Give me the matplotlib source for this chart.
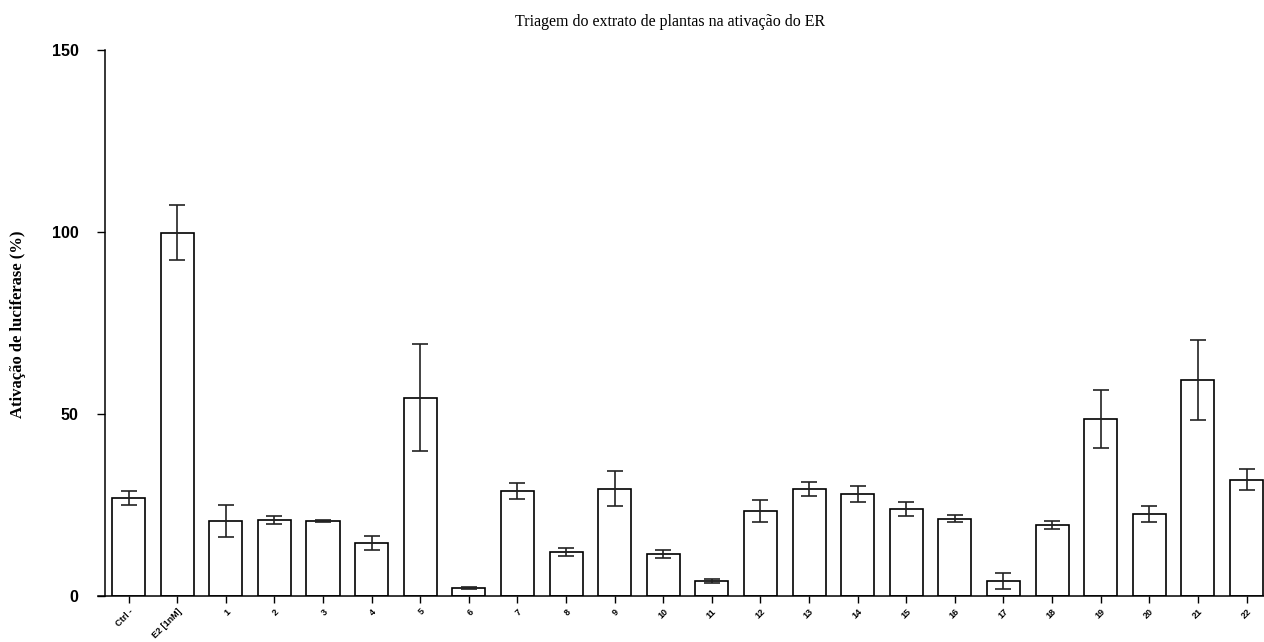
import matplotlib.pyplot as plt

# categories and values
labels = ['Ctrl -', 'E2 [1nM]', '1', '2', '3', '4', '5', '6', '7', '8', '9', '10',
          '11', '12', '13', '14', '15', '16', '17', '18', '19', '20', '21', '22']
means = [26.9, 99.8, 20.6, 20.9, 20.5, 14.6, 54.5, 2.2, 28.8, 12.1, 29.4, 11.5,
         4.1, 23.4, 29.4, 28.0, 23.9, 21.2, 4.1, 19.5, 48.6, 22.5, 59.3, 31.9]
errors = [2.0, 7.6, 4.3, 1.2, 0.3, 2.0, 14.6, 0.3, 2.2, 1.0, 4.8, 1.0,
          0.6, 3.0, 2.0, 2.2, 1.9, 1.0, 2.3, 1.2, 8.0, 2.3, 11.0, 2.9]
yticks = [0, 50, 100, 150]

x = list(range(len(labels)))

fig = plt.figure(figsize=(12.64, 6.42), dpi=100)
ax = fig.add_axes([0.0775, 0.0717, 0.9225, 0.8505])

ax.bar(x, means, width=0.68, color='white', edgecolor='black', linewidth=1.2,
       yerr=errors, error_kw=dict(ecolor='#222222', elinewidth=1.2, capsize=6, capthick=1.2))

ax.spines['top'].set_visible(False)
ax.spines['right'].set_visible(False)
ax.spines['left'].set_position(('data', -0.49))
ax.spines['left'].set_bounds(0, 150)
ax.spines['left'].set_linewidth(1.1)
ax.spines['bottom'].set_linewidth(1.1)

ax.set_xlim(-0.63, 23.36)
ax.set_ylim(0, 150)
ax.set_yticks(yticks)
ax.set_yticklabels([str(v) for v in yticks], family='Liberation Sans',
                   fontweight='bold', fontsize=11.5)
ax.set_xticks(x)
ax.set_xticklabels(labels, rotation=45, ha='right', rotation_mode='anchor',
                   fontsize=6.5, fontweight='bold', family='Liberation Sans')
ax.tick_params(axis='y', direction='out', length=6, width=1, pad=13)
ax.tick_params(axis='x', direction='out', length=5, width=1, pad=3)

ax.set_ylabel('Ativação de luciferase (%)', family='Liberation Serif',
              fontweight='bold', fontsize=12)
ax.yaxis.set_label_coords(-0.062, 0.497)
fig.text(0.53, 0.965, 'Triagem do extrato de plantas na ativação do ER',
         family='Liberation Serif', fontsize=11.5, ha='center', va='center')

fig.savefig('out.png', dpi=100)
